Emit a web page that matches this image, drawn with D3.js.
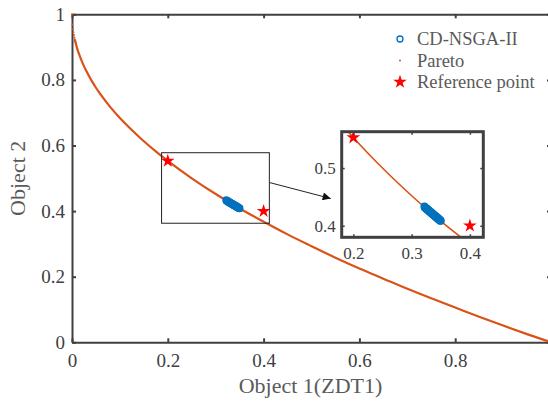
<!DOCTYPE html>
<html><head><meta charset="utf-8">
<script src="https://cdn.jsdelivr.net/npm/d3@7"></script>
<style>
body{margin:0;background:#fff;}
svg{display:block;font-family:"Liberation Serif","Times New Roman",serif;}
</style></head>
<body><svg id="c" width="548" height="404"></svg>
<script>
// ---- data ----
const paretoX = [0, 0.001, 0.002, 0.003, 0.004, 0.005, 0.006, 0.007, 0.008, 0.01, 0.012, 0.015, 0.02, 0.025, 0.03, 0.04, 0.05, 0.06, 0.08, 0.1, 0.12, 0.15, 0.18, 0.2, 0.25, 0.3, 0.35, 0.4, 0.45, 0.5, 0.55, 0.6, 0.65, 0.7, 0.75, 0.8, 0.85, 0.9, 0.95, 1.0];
const paretoY = [1, 0.968, 0.955, 0.945, 0.937, 0.929, 0.923, 0.916, 0.911, 0.9, 0.89, 0.878, 0.859, 0.842, 0.827, 0.8, 0.776, 0.755, 0.717, 0.684, 0.654, 0.613, 0.576, 0.553, 0.5, 0.452, 0.408, 0.368, 0.329, 0.293, 0.258, 0.225, 0.194, 0.163, 0.134, 0.106, 0.078, 0.051, 0.025, 0];
const nsgaX = [0.322,0.323,0.324,0.325,0.326,0.327,0.328,0.329,0.330,0.331,0.332,0.333,0.334,0.335,0.336,0.337,0.338,0.339,0.340,0.341,0.342,0.343,0.344,0.345,0.346,0.347,0.348,0.349,0.350];
const nsgaY = [0.4332,0.4312,0.4313,0.4293,0.4296,0.4276,0.4279,0.4259,0.4261,0.4241,0.4244,0.4224,0.4227,0.4206,0.4209,0.4189,0.4192,0.4172,0.4175,0.4155,0.4158,0.4137,0.4141,0.4120,0.4124,0.4103,0.4106,0.4088,0.4086];
const refX = [0.2, 0.4];
const refY = [0.5528, 0.4];
const xTicks = [0, 0.2, 0.4, 0.6, 0.8];
const yTicks = [0, 0.2, 0.4, 0.6, 0.8, 1];
const insetXTicks = [0.2, 0.3, 0.4];
const insetYTicks = [0.4, 0.5];
const zoomBoxX = [0.187, 0.412];
const zoomBoxY = [0.363, 0.578];
const insetXDomain = [0.18, 0.423];
const insetYDomain = [0.38, 0.563];
const legendLabels = ["CD-NSGA-II", "Pareto", "Reference point"];

const BLUE = "#0072BD", ORANGE = "#D95319", RED = "#FF0000", AX = "#404040";
const svg = d3.select("#c");
const pareto = paretoX.map((v,i)=>[v, paretoY[i]]);
const nsga = nsgaX.map((v,i)=>[v, nsgaY[i]]);
const refs = refX.map((v,i)=>[v, refY[i]]);

// ---- main axes ----
const x = d3.scaleLinear().domain([0,1]).range([72,551]);
const y = d3.scaleLinear().domain([0,1]).range([342.3,14.3]);

function styleAxis(g, fs){
  g.selectAll(".domain").attr("stroke", AX).attr("stroke-width", 2);
  g.selectAll(".tick line").attr("stroke", AX).attr("stroke-width", 2);
  g.selectAll(".tick text").attr("fill", AX).style("font-size", fs+"px").style("font-family", '"Liberation Serif",serif');
}
const gx = svg.append("g").attr("transform", `translate(0,${y(0)})`)
  .call(d3.axisBottom(x).tickValues(xTicks).tickFormat(d3.format("")).tickSizeInner(-4).tickSizeOuter(0).tickPadding(11));
styleAxis(gx, 19);
const gxt = svg.append("g").attr("transform", `translate(0,${y(1)})`)
  .call(d3.axisTop(x).tickValues(xTicks.concat([1])).tickFormat("").tickSizeInner(-4).tickSizeOuter(0));
styleAxis(gxt, 19);
const gy = svg.append("g").attr("transform", `translate(${x(0)},0)`)
  .call(d3.axisLeft(y).tickValues(yTicks).tickFormat(d3.format("")).tickSizeInner(-4).tickSizeOuter(0).tickPadding(7));
styleAxis(gy, 19);
const gyr = svg.append("g").attr("transform", `translate(${x(1)},0)`)
  .call(d3.axisRight(y).tickValues(yTicks).tickFormat("").tickSizeInner(-4).tickSizeOuter(0));
styleAxis(gyr, 19);

// axis titles
svg.append("text").attr("x", (x(0)+x(1))/2 - 1).attr("y", 393).attr("text-anchor","middle")
  .attr("fill","#5a5a5a").style("font-size","22px").text("Object 1(ZDT1)");
svg.append("text").attr("transform", `translate(25,${(y(0)+y(1))/2}) rotate(-90)`).attr("text-anchor","middle")
  .attr("fill","#5a5a5a").style("font-size","22px").text("Object 2");

// ---- main plot content ----
const line = d3.line().x(d=>x(d[0])).y(d=>y(d[1])).curve(d3.curveMonotoneX);
svg.append("path").datum(pareto.filter(d=>d[0]>=0.006)).attr("d", line)
  .attr("fill","none").attr("stroke", ORANGE).attr("stroke-width", 2.2);
svg.append("g").selectAll("circle").data(pareto.filter(d=>d[0]<0.01)).join("circle")
  .attr("cx", d=>x(d[0])).attr("cy", d=>y(d[1])).attr("r", 1).attr("fill", ORANGE);

svg.append("g").selectAll("circle").data(nsga).join("circle")
  .attr("cx", d=>x(d[0])).attr("cy", d=>y(d[1])).attr("r", 3.2)
  .attr("fill","none").attr("stroke", BLUE).attr("stroke-width", 1.4);

const star = d3.symbol().type(d3.symbolStar).size(58);
svg.append("g").selectAll("path").data(refs).join("path")
  .attr("transform", d=>`translate(${x(d[0])},${y(d[1])})`).attr("d", star).attr("fill", RED);

// zoom rectangle
svg.append("rect").attr("x", x(zoomBoxX[0])).attr("y", y(zoomBoxY[1]))
  .attr("width", x(zoomBoxX[1])-x(zoomBoxX[0])).attr("height", y(zoomBoxY[0])-y(zoomBoxY[1]))
  .attr("fill","none").attr("stroke","#222").attr("stroke-width",1);

// ---- inset ----
const ix = d3.scaleLinear().domain(insetXDomain).range([341.7,483.3]);
const iy = d3.scaleLinear().domain(insetYDomain).range([237.3,131.7]);
svg.append("rect").attr("x",ix.range()[0]).attr("y",iy.range()[1])
  .attr("width", ix.range()[1]-ix.range()[0]).attr("height", iy.range()[0]-iy.range()[1]).attr("fill","#fff");
svg.append("defs").append("clipPath").attr("id","ic").append("rect")
  .attr("x",ix.range()[0]).attr("y",iy.range()[1])
  .attr("width", ix.range()[1]-ix.range()[0]).attr("height", iy.range()[0]-iy.range()[1]);
const ig = svg.append("g").attr("clip-path","url(#ic)");
const iline = d3.line().x(d=>ix(d[0])).y(d=>iy(d[1])).curve(d3.curveMonotoneX);
ig.append("path").datum(pareto).attr("d", iline).attr("fill","none").attr("stroke",ORANGE).attr("stroke-width",1.6);
ig.append("g").selectAll("circle").data(nsga).join("circle")
  .attr("cx", d=>ix(d[0])).attr("cy", d=>iy(d[1])).attr("r", 3.3)
  .attr("fill","none").attr("stroke", BLUE).attr("stroke-width", 1.5);
ig.append("g").selectAll("path").data(refs).join("path")
  .attr("transform", d=>`translate(${ix(d[0])},${iy(d[1])})`).attr("d", star).attr("fill", RED);

function styleInset(g){
  g.selectAll(".domain").remove();
  g.selectAll(".tick line").attr("stroke", AX).attr("stroke-width", 1.5);
  g.selectAll(".tick text").attr("fill", AX).style("font-size","17px").style("font-family",'"Liberation Serif",serif');
}
styleInset(svg.append("g").attr("transform",`translate(0,${iy.range()[0]})`)
  .call(d3.axisBottom(ix).tickValues(insetXTicks).tickFormat(d3.format("")).tickSizeInner(-3).tickSizeOuter(0).tickPadding(10)));
styleInset(svg.append("g").attr("transform",`translate(0,${iy.range()[1]})`)
  .call(d3.axisTop(ix).tickValues(insetXTicks).tickFormat("").tickSizeInner(-3).tickSizeOuter(0)));
styleInset(svg.append("g").attr("transform",`translate(${ix.range()[0]},0)`)
  .call(d3.axisLeft(iy).tickValues(insetYTicks).tickFormat(d3.format("")).tickSizeInner(-3).tickSizeOuter(0).tickPadding(6)));
styleInset(svg.append("g").attr("transform",`translate(${ix.range()[1]},0)`)
  .call(d3.axisRight(iy).tickValues(insetYTicks).tickFormat("").tickSizeInner(-3).tickSizeOuter(0)));
svg.append("rect").attr("x",ix.range()[0]).attr("y",iy.range()[1])
  .attr("width", ix.range()[1]-ix.range()[0]).attr("height", iy.range()[0]-iy.range()[1])
  .attr("fill","none").attr("stroke",AX).attr("stroke-width",3);

// arrow
svg.append("defs").append("marker").attr("id","ah").attr("viewBox","0 0 10 10").attr("refX",10).attr("refY",5)
  .attr("markerWidth",10).attr("markerHeight",8).attr("markerUnits","userSpaceOnUse").attr("orient","auto")
  .append("path").attr("d","M0,0L10,5L0,10Z").attr("fill","#111");
svg.append("line").attr("x1", x(zoomBoxX[1])).attr("y1", 182.5).attr("x2", ix.range()[0]-11).attr("y2", 198.5)
  .attr("stroke","#222").attr("stroke-width",1).attr("marker-end","url(#ah)");

// ---- legend ----
const lg = svg.append("g");
const rows = [39, 60.5, 82];
lg.append("circle").attr("cx",400).attr("cy",rows[0]).attr("r",3).attr("fill","none").attr("stroke",BLUE).attr("stroke-width",1.3);
lg.append("circle").attr("cx",400).attr("cy",rows[1]).attr("r",1).attr("fill",ORANGE);
lg.append("path").attr("transform",`translate(400,${rows[2]})`).attr("d",star).attr("fill",RED);
lg.selectAll("text").data(legendLabels).join("text").attr("x",417).attr("y",(d,i)=>rows[i]+6)
  .attr("fill","#5a5a5a").style("font-size","18.5px").text(d=>d);
</script></body></html>
